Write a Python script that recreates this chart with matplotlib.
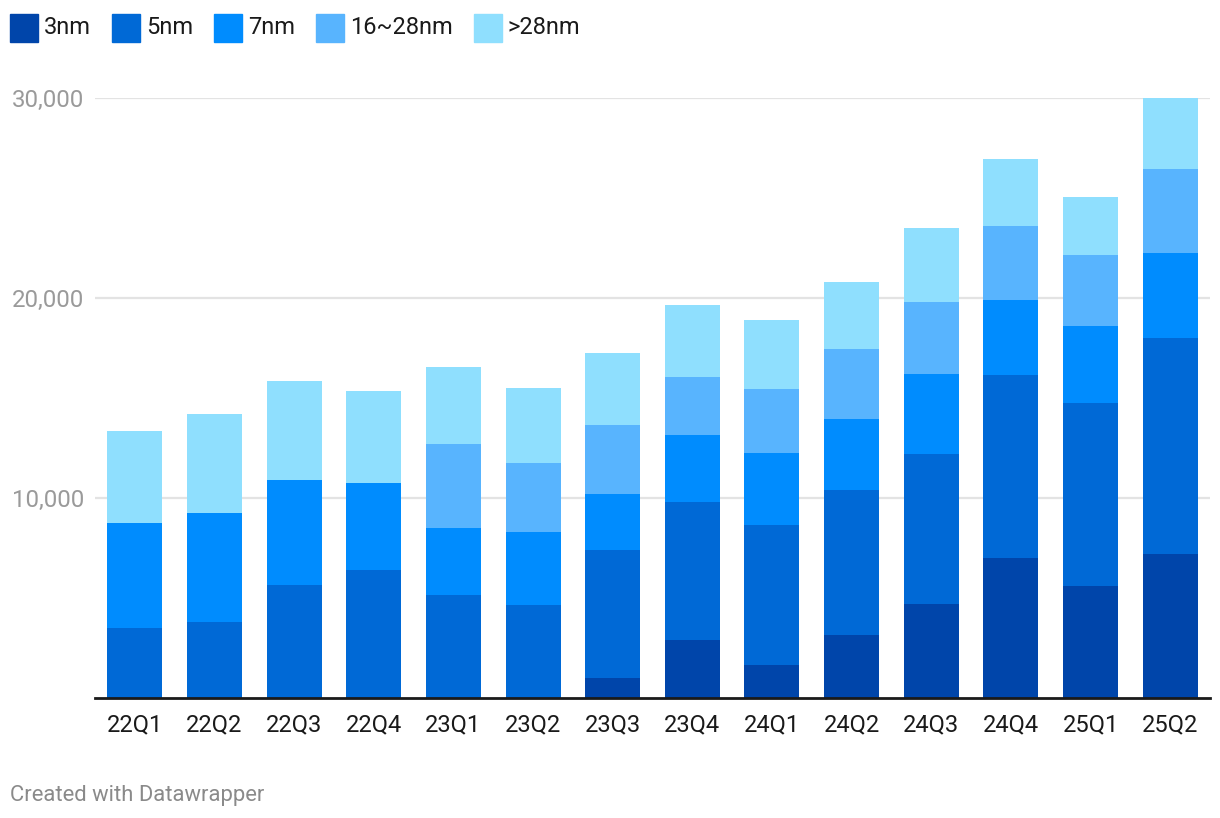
import matplotlib
matplotlib.use("Agg")
import matplotlib.pyplot as plt
import numpy as np
from matplotlib.patches import Rectangle

plt.rcParams['font.family'] = ['Roboto', 'DejaVu Sans']

quarters = ["22Q1", "22Q2", "22Q3", "22Q4", "23Q1", "23Q2", "23Q3", "23Q4",
            "24Q1", "24Q2", "24Q3", "24Q4", "25Q1", "25Q2"]
nm3 = [0, 0, 0, 0, 0, 0, 990, 2900, 1640, 3130, 4680, 6990, 5580, 7200]
nm5 = [3480, 3780, 5640, 6400, 5160, 4660, 6430, 6880, 6990, 7280, 7530, 9170, 9190, 10820]
nm7 = [5270, 5460, 5260, 4360, 3320, 3620, 2760, 3370, 3620, 3540, 4010, 3760, 3840, 4210]
nm16_28 = [0, 0, 0, 0, 4220, 3460, 3470, 2910, 3210, 3510, 3560, 3660, 3560, 4210]
nm28plus = [4600, 4970, 4970, 4600, 3870, 3770, 3620, 3570, 3420, 3360, 3700, 3390, 2860, 3560]

series_names = ["3nm", "5nm", "7nm", "16~28nm", ">28nm"]
series = [nm3, nm5, nm7, nm16_28, nm28plus]
colors = ["#0045aa", "#0069d6", "#008cfe", "#58b4fe", "#8fdffe"]
yticks = [10000, 20000, 30000]

W, H = 1220, 818
fig = plt.figure(figsize=(W / 100, H / 100), dpi=100)
ax = fig.add_axes([95 / W, 1 - 698 / H, (1210 - 95) / W, (698 - 98) / H])

x = np.arange(len(quarters))
bottom = np.zeros(len(quarters))
for name, vals, c in zip(series_names, series, colors):
    v = np.array(vals, dtype=float)
    ax.bar(x, v, bottom=bottom, width=0.69, color=c, label=name, zorder=3,
           linewidth=0, clip_on=False)
    bottom += v

ax.set_xlim(-0.5, len(quarters) - 0.5)
ax.set_ylim(0, 30000)
ax.set_yticks(yticks)
ax.set_yticklabels([f"{t:,}" for t in yticks])
ax.set_xticks(x)
ax.set_xticklabels(quarters)
ax.tick_params(axis='y', length=0, pad=8, labelsize=17.3, labelcolor="#9a9a9a")
ax.tick_params(axis='x', length=0, pad=11, labelsize=17, labelcolor="#1a1a1a")
ax.grid(axis='y', color="#e3e3e3", linewidth=1.6, zorder=0)
for s in ["top", "right", "left"]:
    ax.spines[s].set_visible(False)
ax.spines["bottom"].set_color("#1a1a1a")
ax.spines["bottom"].set_linewidth(2)
ax.spines["bottom"].set_zorder(5)

# legend
lx = 10
for name, c in zip(series_names, colors):
    fig.patches.append(Rectangle((lx / W, 1 - 42 / H), 28 / W, 28 / H,
                                 transform=fig.transFigure, color=c))
    t = fig.text((lx + 34) / W, 1 - 28 / H, name, fontsize=17, color="#1a1a1a",
                 va='center', ha='left')
    fig.canvas.draw()
    bb = t.get_window_extent()
    lx = bb.x1 + 21

fig.text(10 / W, 1 - 795 / H, "Created with Datawrapper", fontsize=15.8,
         color="#8a8a8a", va='center', ha='left')

fig.savefig("out.png", dpi=100)
